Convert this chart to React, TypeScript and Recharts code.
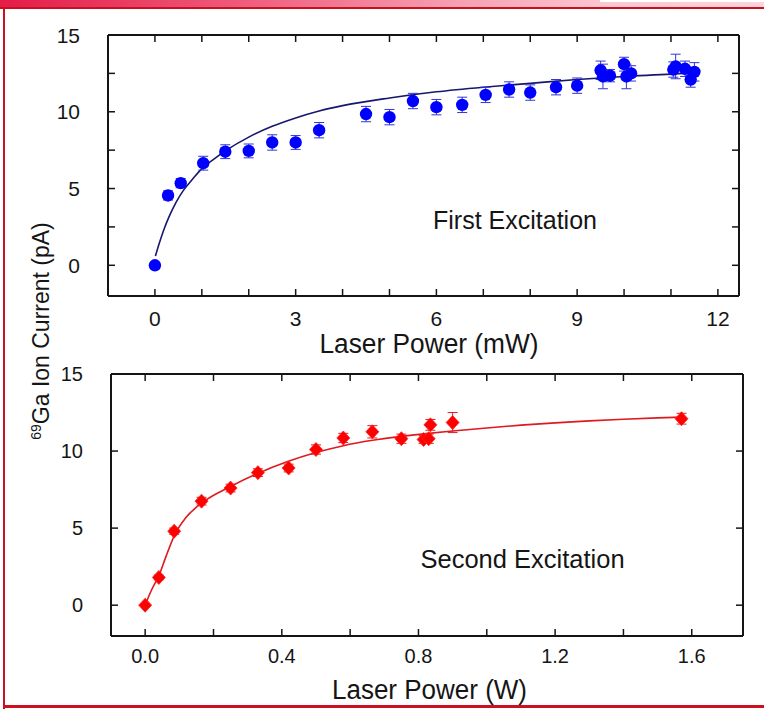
import React from 'react';
import { ComposedChart, XAxis, YAxis, Line, Scatter, ErrorBar } from 'recharts';

// ---------- First excitation (mW) ----------
const firstX = [0, 0.28, 0.55, 1.03, 1.5, 2.0, 2.5, 3.0, 3.5, 4.5, 5.0, 5.5, 6.0, 6.55, 7.05, 7.55, 8.0, 8.55, 9.0, 9.5, 9.55, 9.7, 10.0, 10.05, 10.15, 11.05, 11.1, 11.3, 11.42, 11.5];
const firstY = [0, 4.55, 5.35, 6.65, 7.4, 7.45, 8.0, 8.0, 8.8, 9.85, 9.65, 10.7, 10.3, 10.45, 11.1, 11.45, 11.25, 11.6, 11.7, 12.7, 12.3, 12.35, 13.1, 12.3, 12.5, 12.75, 12.95, 12.8, 12.1, 12.6];
const firstErr = [0, 0.3, 0.3, 0.45, 0.45, 0.45, 0.5, 0.45, 0.5, 0.5, 0.5, 0.5, 0.5, 0.5, 0.5, 0.5, 0.5, 0.5, 0.5, 0.6, 0.8, 0.4, 0.45, 0.8, 0.5, 0.5, 0.8, 0.5, 0.5, 0.6];
const firstFitX = [0.01, 0.1, 0.2, 0.3, 0.45, 0.6, 0.8, 1.0, 1.25, 1.5, 2.0, 2.5, 3.0, 3.5, 4.0, 5.0, 6.0, 7.0, 8.0, 9.0, 10.0, 11.0, 11.5];
const firstFitY = [0.6, 1.5, 2.4, 3.15, 4.1, 4.85, 5.6, 6.3, 6.9, 7.45, 8.35, 9.05, 9.6, 10.05, 10.4, 10.9, 11.3, 11.6, 11.85, 12.1, 12.3, 12.45, 12.55];
const firstXTicks = [0, 1, 2, 3, 4, 5, 6, 7, 8, 9, 10, 11, 12];
const firstXLabels = [0, 3, 6, 9, 12];
const firstYTicks = [0, 2.5, 5, 7.5, 10, 12.5, 15];
const firstYLabels = [0, 5, 10, 15];

// ---------- Second excitation (W) ----------
const secondX = [0, 0.04, 0.085, 0.165, 0.25, 0.33, 0.42, 0.5, 0.58, 0.665, 0.75, 0.815, 0.83, 0.835, 0.9, 1.57];
const secondY = [0, 1.8, 4.8, 6.75, 7.6, 8.6, 8.9, 10.1, 10.85, 11.25, 10.8, 10.75, 10.8, 11.7, 11.85, 12.1];
const secondErr = [0, 0.15, 0.2, 0.25, 0.25, 0.25, 0.25, 0.3, 0.3, 0.4, 0.3, 0.25, 0.3, 0.35, 0.65, 0.35];
const secondFitX = [0, 0.01, 0.02, 0.04, 0.06, 0.085, 0.12, 0.167, 0.25, 0.33, 0.415, 0.5, 0.58, 0.666, 0.75, 0.83, 0.9, 1.0, 1.1, 1.2, 1.3, 1.4, 1.5, 1.57];
const secondFitY = [0, 0.55, 1.05, 1.9, 3.1, 4.5, 5.7, 6.65, 7.7, 8.55, 9.3, 9.9, 10.35, 10.7, 10.95, 11.15, 11.3, 11.5, 11.68, 11.83, 11.96, 12.06, 12.15, 12.2];
const secondXTicks = [0, 0.2, 0.4, 0.6, 0.8, 1.0, 1.2, 1.4, 1.6];
const secondXLabels = [0, 0.4, 0.8, 1.2, 1.6];
const secondYTicks = [0, 5, 10, 15];
const secondYLabels = [0, 5, 10, 15];

const firstPts = firstX.map((x, i) => ({ x, y: firstY[i], e: firstErr[i] }));
const firstFit = firstFitX.map((x, i) => ({ x, y: firstFitY[i] }));
const secondPts = secondX.map((x, i) => ({ x, y: secondY[i], e: secondErr[i] }));
const secondFit = secondFitX.map((x, i) => ({ x, y: secondFitY[i] }));

const FONT = '"Liberation Sans", Arial, Helvetica, sans-serif';
const INK = '#151515';
const TL = 7;

type Side = 'bottom' | 'top' | 'left' | 'right';
function makeTick(side: Side, labels: number[], fmt: (v: number) => string, fs: number, off: number) {
  return (p: any) => {
    const { x, y, payload } = p;
    const v = payload.value;
    const show = labels.some((l) => Math.abs(l - v) < 1e-6);
    let x2 = x;
    let y2 = y;
    if (side === 'bottom') y2 = y - TL;
    if (side === 'top') y2 = y + TL;
    if (side === 'left') x2 = x + TL;
    if (side === 'right') x2 = x - TL;
    return (
      <g>
        <line x1={x} y1={y} x2={x2} y2={y2} stroke={INK} strokeWidth={1.5} />
        {show && side === 'bottom' && (
          <text x={x} y={y + off} textAnchor="middle" fontSize={fs} fontFamily={FONT} fill={INK}>
            {fmt(v)}
          </text>
        )}
        {show && side === 'left' && (
          <text x={x - off} y={y} dy="0.36em" textAnchor="end" fontSize={fs} fontFamily={FONT} fill={INK}>
            {fmt(v)}
          </text>
        )}
      </g>
    );
  };
}

const BlueDot = (p: any) => <circle cx={p.cx} cy={p.cy} r={6.2} fill="#0000ff" />;
const RedDiamond = (p: any) => {
  const { cx, cy } = p;
  return (
    <polygon
      points={`${cx},${cy - 7} ${cx + 6.5},${cy} ${cx},${cy + 7} ${cx - 6.5},${cy}`}
      fill="#ff0000"
      stroke="#ff2020"
      strokeWidth={0.8}
    />
  );
};
const Nothing = () => <g />;

const axisLine = { stroke: INK, strokeWidth: 2 };
const intFmt = (v: number) => String(Math.round(v));
const oneDec = (v: number) => v.toFixed(1);

function Panel(props: {
  top: number;
  height: number;
  margin: any;
  yWidth: number;
  xHeight: number;
  xDomain: [number, number];
  xTicks: number[];
  xLabels: number[];
  xFmt: (v: number) => string;
  yTicks: number[];
  yLabels: number[];
  pts: any[];
  fit: any[];
  color: string;
  fitColor: string;
  errColor: string;
  shape: any;
  fs: number;
  xOff: number;
}) {
  const p = props;
  return (
    <div style={{ position: 'absolute', left: 0, top: p.top }}>
      <ComposedChart width={764} height={p.height} margin={p.margin}>
        <XAxis
          xAxisId="b"
          dataKey="x"
          type="number"
          domain={p.xDomain}
          ticks={p.xTicks}
          interval={0}
          allowDataOverflow
          height={p.xHeight}
          tickSize={0}
          tickMargin={0}
          tickLine={false}
          axisLine={axisLine}
          tick={makeTick('bottom', p.xLabels, p.xFmt, p.fs, p.xOff)}
        />
        <XAxis
          xAxisId="t"
          dataKey="x"
          orientation="top"
          type="number"
          domain={p.xDomain}
          ticks={p.xTicks}
          interval={0}
          allowDataOverflow
          height={1}
          tickSize={0}
          tickMargin={0}
          tickLine={false}
          axisLine={axisLine}
          tick={makeTick('top', [], p.xFmt, p.fs, 0)}
        />
        <YAxis
          yAxisId="l"
          type="number"
          domain={[-2, 15]}
          ticks={p.yTicks}
          interval={0}
          allowDataOverflow
          width={p.yWidth}
          tickSize={0}
          tickMargin={0}
          tickLine={false}
          axisLine={axisLine}
          tick={makeTick('left', p.yLabels, intFmt, p.fs, 28)}
        />
        <YAxis
          yAxisId="r"
          orientation="right"
          type="number"
          domain={[-2, 15]}
          ticks={p.yTicks}
          interval={0}
          allowDataOverflow
          width={1}
          tickSize={0}
          tickMargin={0}
          tickLine={false}
          axisLine={axisLine}
          tick={makeTick('right', [], intFmt, p.fs, 0)}
        />
        <Scatter xAxisId="t" yAxisId="r" data={p.pts} dataKey="y" shape={Nothing} isAnimationActive={false} />
        <Line
          xAxisId="b"
          yAxisId="l"
          data={p.fit}
          dataKey="y"
          type="monotone"
          dot={false}
          stroke={p.fitColor}
          strokeWidth={1.6}
          isAnimationActive={false}
        />
        <Scatter xAxisId="b" yAxisId="l" data={p.pts} dataKey="y" shape={Nothing} isAnimationActive={false}>
          <ErrorBar dataKey="e" direction="y" width={5} stroke={p.errColor} strokeWidth={1} />
        </Scatter>
        <Scatter xAxisId="b" yAxisId="l" data={p.pts} dataKey="y" fill={p.color} shape={p.shape} isAnimationActive={false} />
      </ComposedChart>
    </div>
  );
}

export default function App() {
  return (
    <div style={{ position: 'absolute', left: 0, top: 0, width: 764, height: 716, background: '#fff', overflow: 'hidden' }}>
      {/* slide frame */}
      <div
        style={{
          position: 'absolute',
          left: 0,
          top: 0,
          width: 764,
          height: 7,
          background: 'linear-gradient(to right, #e41c48 0%, #ee5878 30%, #f6a0b2 60%, #fcc8d2 80%, #fdd4dc 100%)',
        }}
      />
      <div style={{ position: 'absolute', left: 600, top: 0, width: 164, height: 2, background: '#fff' }} />
      <div style={{ position: 'absolute', left: 0, top: 7, width: 764, height: 2, background: '#c8101e' }} />
      <div style={{ position: 'absolute', left: 3, top: 8, width: 2, height: 701, background: '#cc1020' }} />
      <div style={{ position: 'absolute', left: 3, top: 705, width: 761, height: 3, background: '#cc1020' }} />

      <Panel
        top={0}
        height={360}
        margin={{ top: 34, right: 24, left: 0, bottom: 0 }}
        yWidth={108}
        xHeight={64}
        xDomain={[-1, 12.45]}
        xTicks={firstXTicks}
        xLabels={firstXLabels}
        xFmt={intFmt}
        yTicks={firstYTicks}
        yLabels={firstYLabels}
        pts={firstPts}
        fit={firstFit}
        color="#0000ff"
        fitColor="#17176e"
        errColor="#3434d4"
        shape={BlueDot}
        fs={21}
        xOff={30}
      />
      <Panel
        top={360}
        height={356}
        margin={{ top: 13, right: 20, left: 0, bottom: 0 }}
        yWidth={111}
        xHeight={80}
        xDomain={[-0.1, 1.75]}
        xTicks={secondXTicks}
        xLabels={secondXLabels}
        xFmt={oneDec}
        yTicks={secondYTicks}
        yLabels={secondYLabels}
        pts={secondPts}
        fit={secondFit}
        color="#ff0000"
        fitColor="#e01820"
        errColor="#e02020"
        shape={RedDiamond}
        fs={20}
        xOff={27}
      />

      <svg width={764} height={716} style={{ position: 'absolute', left: 0, top: 0, pointerEvents: 'none' }}>
        <text x={429} y={353} textAnchor="middle" fontSize={27} fontFamily={FONT} fill={INK} textLength={219} lengthAdjust="spacingAndGlyphs">
          Laser Power (mW)
        </text>
        <text x={429.5} y={699} textAnchor="middle" fontSize={27} fontFamily={FONT} fill={INK} textLength={195} lengthAdjust="spacingAndGlyphs">
          Laser Power (W)
        </text>
        <text x={515} y={229} textAnchor="middle" fontSize={25} fontFamily={FONT} fill={INK}>
          First Excitation
        </text>
        <text x={522.5} y={567.5} textAnchor="middle" fontSize={25.5} fontFamily={FONT} fill={INK}>
          Second Excitation
        </text>
        <text transform="translate(49,331) rotate(-90)" textAnchor="middle" fontSize={23} fontFamily={FONT} fill={INK}>
          <tspan fontSize={14} dy={-8}>69</tspan>
          <tspan dy={8}>Ga Ion Current (pA)</tspan>
        </text>
      </svg>
    </div>
  );
}
